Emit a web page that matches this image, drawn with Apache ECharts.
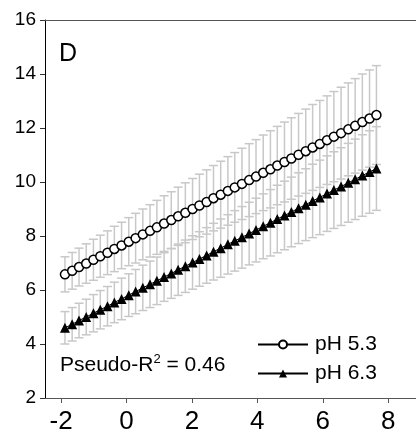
<!DOCTYPE html>
<html>
<head>
<meta charset="utf-8">
<script src="https://cdn.jsdelivr.net/npm/echarts@6/dist/echarts.min.js"></script>
<style>
  html, body { margin: 0; padding: 0; background: #fff; }
  #chart { width: 416px; height: 441px; }
</style>
</head>
<body>
<div id="chart"></div>
<script>
// predictor values (x) shared by both fitted lines
const xVals = [-1.88, -1.66, -1.45, -1.23, -1.01, -0.80, -0.58, -0.37, -0.15, 0.07,
  0.28, 0.50, 0.72, 0.93, 1.15, 1.37, 1.58, 1.80, 2.02, 2.23,
  2.45, 2.66, 2.88, 3.10, 3.31, 3.53, 3.75, 3.96, 4.18, 4.40,
  4.61, 4.83, 5.04, 5.26, 5.48, 5.69, 5.91, 6.13, 6.34, 6.56,
  6.78, 6.99, 7.21, 7.43, 7.64]

// fitted values, pH 5.3
const ph53 = [6.58, 6.71, 6.85, 6.98, 7.12, 7.25, 7.38, 7.52, 7.65, 7.79,
  7.92, 8.06, 8.19, 8.32, 8.46, 8.59, 8.73, 8.86, 9.00, 9.13,
  9.26, 9.40, 9.53, 9.67, 9.80, 9.93, 10.07, 10.20, 10.34, 10.47,
  10.61, 10.74, 10.87, 11.01, 11.14, 11.28, 11.41, 11.55, 11.68, 11.81,
  11.95, 12.08, 12.22, 12.35, 12.48]
// half width of the error bar, pH 5.3
const ci53 = [0.65, 0.68, 0.70, 0.73, 0.76, 0.78, 0.81, 0.84, 0.86, 0.89,
  0.92, 0.94, 0.97, 1.00, 1.03, 1.05, 1.08, 1.11, 1.13, 1.16,
  1.19, 1.21, 1.24, 1.27, 1.29, 1.32, 1.35, 1.37, 1.40, 1.43,
  1.45, 1.48, 1.51, 1.53, 1.56, 1.59, 1.61, 1.64, 1.67, 1.70,
  1.72, 1.75, 1.78, 1.80, 1.83]

// fitted values, pH 6.3
const ph63 = [4.60, 4.73, 4.87, 5.00, 5.14, 5.27, 5.40, 5.54, 5.67, 5.81,
  5.94, 6.08, 6.21, 6.34, 6.48, 6.61, 6.75, 6.88, 7.02, 7.15,
  7.28, 7.42, 7.55, 7.69, 7.82, 7.95, 8.09, 8.22, 8.36, 8.49,
  8.63, 8.76, 8.89, 9.03, 9.16, 9.30, 9.43, 9.57, 9.70, 9.83,
  9.97, 10.10, 10.24, 10.37, 10.50]
// half width of the error bar, pH 6.3
const ci63 = [0.60, 0.62, 0.64, 0.66, 0.69, 0.71, 0.73, 0.75, 0.77, 0.79,
  0.82, 0.84, 0.86, 0.88, 0.90, 0.92, 0.95, 0.97, 0.99, 1.01,
  1.03, 1.05, 1.08, 1.10, 1.12, 1.14, 1.16, 1.18, 1.20, 1.23,
  1.25, 1.27, 1.29, 1.31, 1.33, 1.36, 1.38, 1.40, 1.42, 1.44,
  1.46, 1.49, 1.51, 1.53, 1.55]

const xTicks = [-2, 0, 2, 4, 6, 8]
const font = 'Arial, "Liberation Sans", sans-serif'
const barColor = '#c8c8c8'

const pairs = (ys) => xVals.map((x, i) => [x, ys[i]])
const bars = (ys, ci) => xVals.map((x, i) => [x, ys[i] - ci[i], ys[i] + ci[i]])

// vertical error bar with caps
function renderBar(params, api) {
  const x = api.value(0)
  const lo = api.coord([x, api.value(1)])
  const hi = api.coord([x, api.value(2)])
  const half = 4.5
  const style = { stroke: barColor, lineWidth: 1.5 }
  return {
    type: 'group',
    children: [
      { type: 'line', shape: { x1: hi[0], y1: hi[1], x2: lo[0], y2: lo[1] }, style },
      { type: 'line', shape: { x1: hi[0] - half, y1: hi[1], x2: hi[0] + half, y2: hi[1] }, style },
      { type: 'line', shape: { x1: lo[0] - half, y1: lo[1], x2: lo[0] + half, y2: lo[1] }, style }
    ]
  }
}

const chart = echarts.init(document.getElementById('chart'))
chart.setOption({
  animation: false,
  backgroundColor: '#fff',
  grid: { left: 45, top: 20, right: 0, bottom: 43 },
  xAxis: [{
    type: 'value',
    min: -2.49,
    max: 8.85,
    axisLine: { onZero: false, lineStyle: { color: '#555', width: 1 } },
    axisTick: { show: true, customValues: xTicks, length: 5, lineStyle: { color: '#555' } },
    axisLabel: { customValues: xTicks, fontSize: 26, color: '#000', fontFamily: font, margin: 11 },
    splitLine: { show: false }
  }, {
    type: 'value',
    position: 'top',
    min: -2.49,
    max: 8.85,
    axisLine: { show: true, onZero: false, lineStyle: { color: '#555', width: 1 } },
    axisTick: { show: false },
    axisLabel: { show: false },
    splitLine: { show: false }
  }],
  yAxis: {
    type: 'value',
    min: 2,
    max: 16,
    interval: 2,
    axisLine: { show: true, onZero: false, lineStyle: { color: '#000', width: 1 } },
    axisTick: { show: true, length: 5, lineStyle: { color: '#333' } },
    axisLabel: { fontSize: 19, color: '#000', fontFamily: font, margin: 9 },
    splitLine: { show: false }
  },
  legend: {
    data: ['pH 5.3', 'pH 6.3'],
    orient: 'vertical',
    left: 252,
    top: 329,
    itemWidth: 50,
    itemHeight: 10,
    itemGap: 8,
    textStyle: { fontSize: 21, color: '#000', fontFamily: font, padding: [0, 0, 0, 2] }
  },
  graphic: [{
    type: 'text',
    left: 59,
    top: 42,
    style: { text: 'D', fontSize: 25, fill: '#000', font: '25px ' + font }
  }, {
    type: 'text',
    left: 60,
    top: 353,
    style: {
      text: '{a|Pseudo-R}{s|2}{a| = 0.46}',
      rich: {
        a: { fontSize: 21, fontFamily: font, fill: '#000', verticalAlign: 'bottom' },
        s: { fontSize: 13, fontFamily: font, fill: '#000', verticalAlign: 'top', padding: [0, 0, 10, 0] }
      }
    }
  }],
  series: [{
    type: 'custom',
    name: 'bars53',
    renderItem: renderBar,
    data: bars(ph53, ci53),
    encode: { x: 0, y: [1, 2] },
    z: 1
  }, {
    type: 'custom',
    name: 'bars63',
    renderItem: renderBar,
    data: bars(ph63, ci63),
    encode: { x: 0, y: [1, 2] },
    z: 1
  }, {
    type: 'line',
    name: 'pH 5.3',
    data: pairs(ph53),
    symbol: 'circle',
    symbolSize: 9,
    lineStyle: { color: '#000', width: 1 },
    itemStyle: { color: '#fff', borderColor: '#000', borderWidth: 1.5 },
    z: 3
  }, {
    type: 'line',
    name: 'pH 6.3',
    data: pairs(ph63),
    symbol: 'triangle',
    symbolSize: 10,
    lineStyle: { color: '#000', width: 1 },
    itemStyle: { color: '#000' },
    z: 3
  }]
})
</script>
</body>
</html>
